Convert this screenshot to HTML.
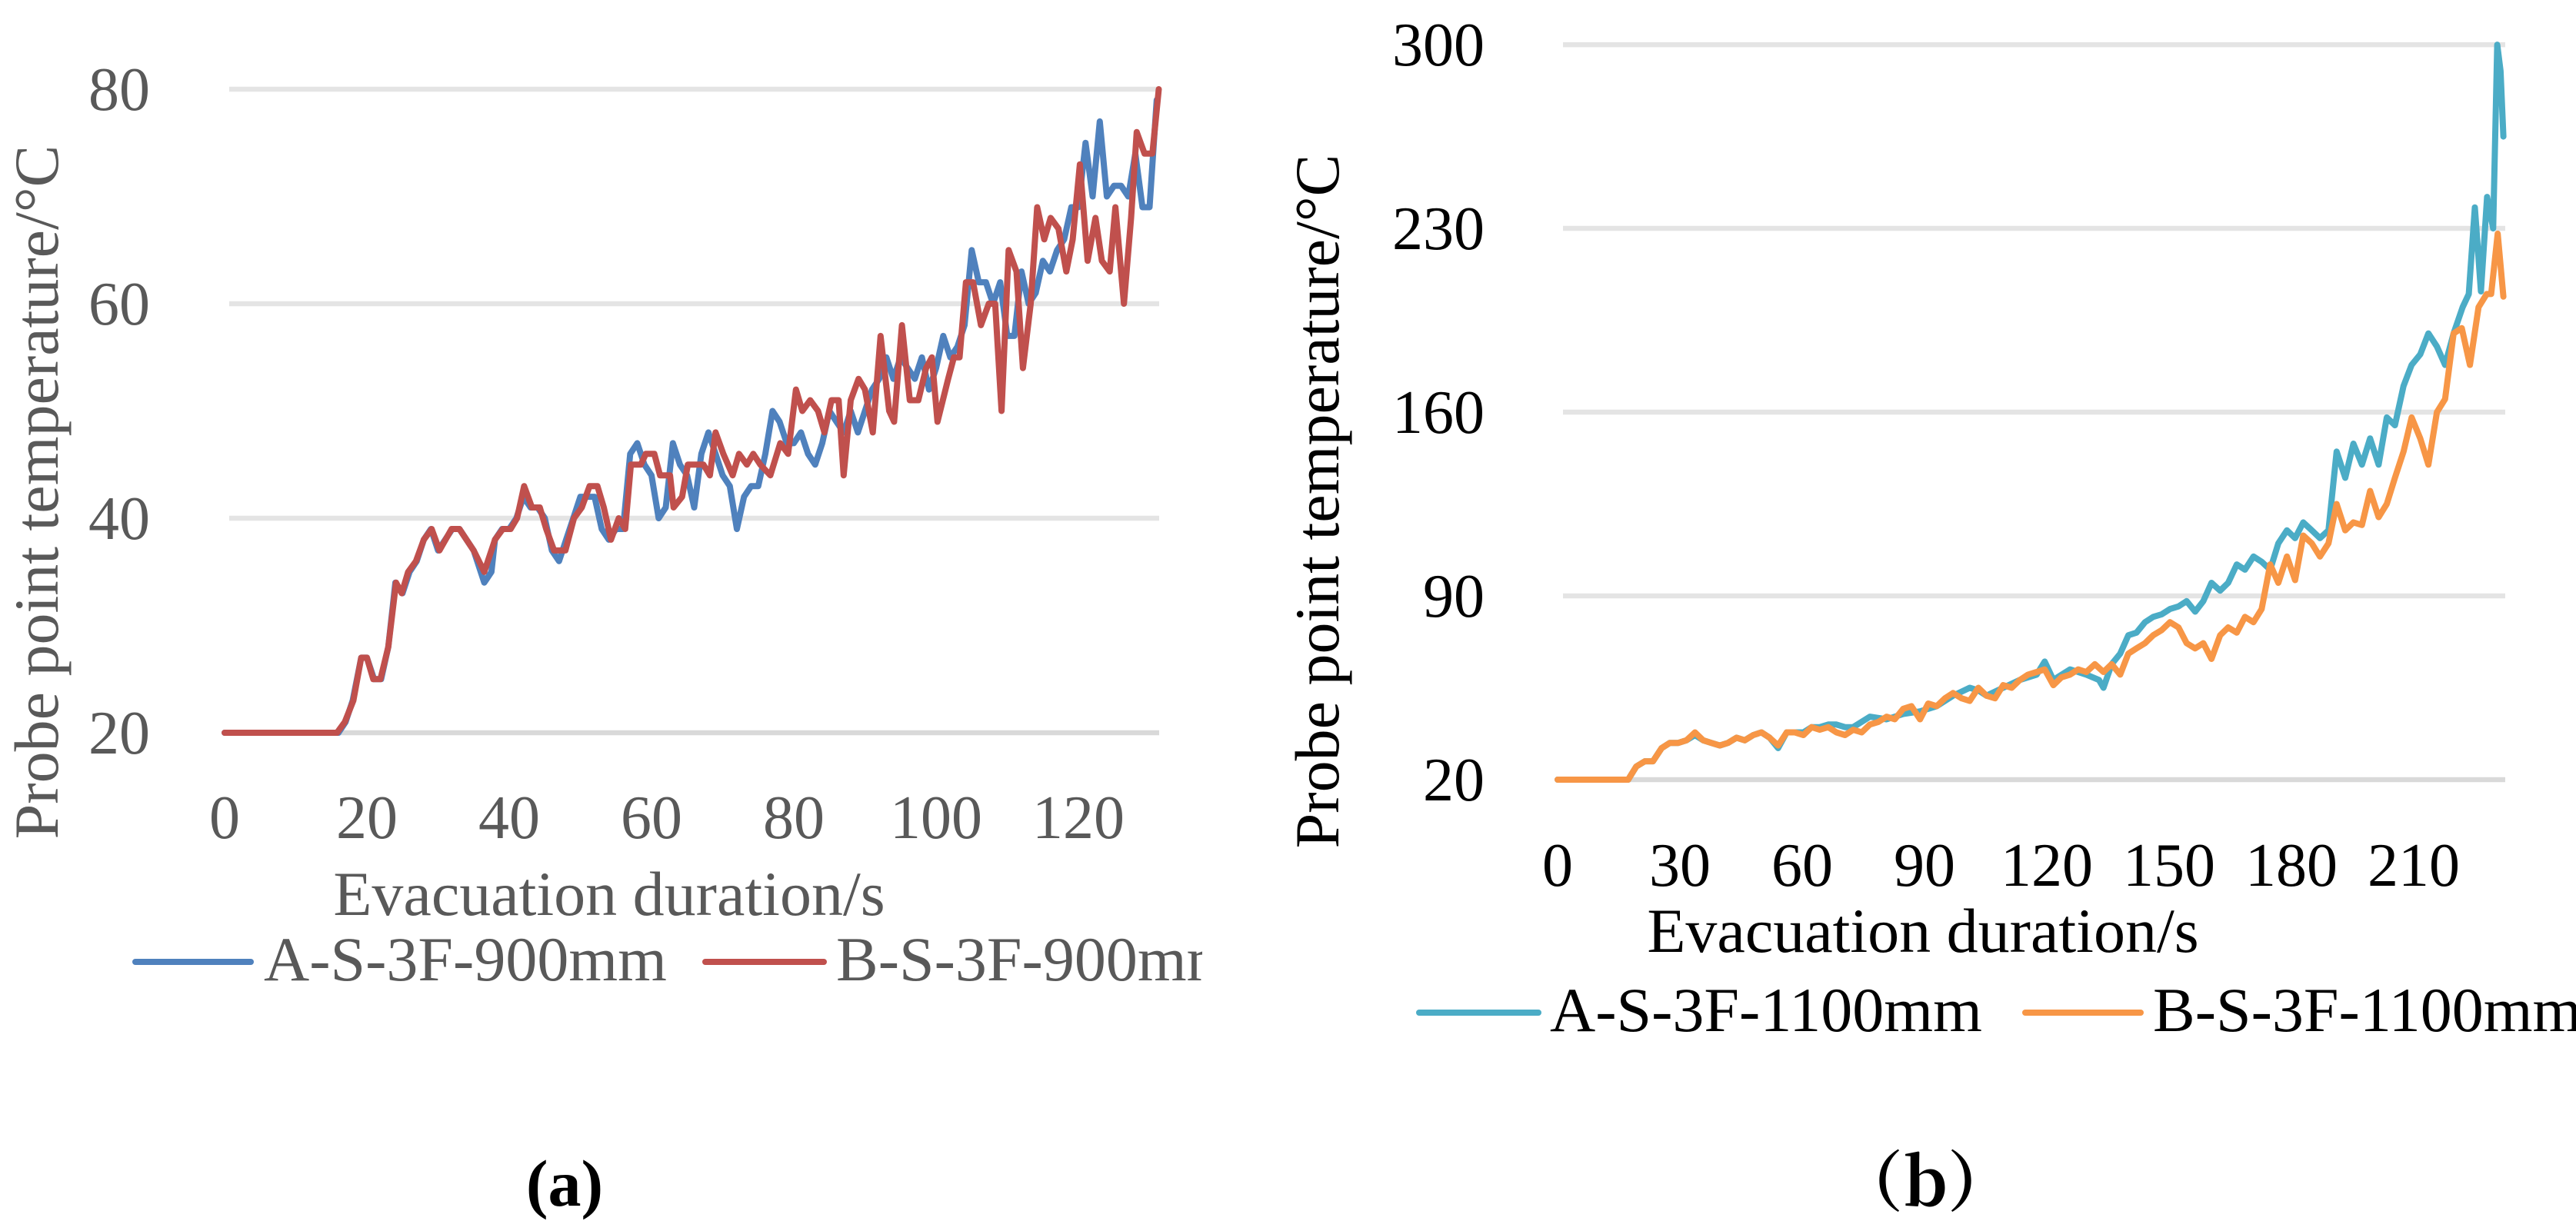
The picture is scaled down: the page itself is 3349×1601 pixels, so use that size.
<!DOCTYPE html>
<html><head><meta charset="utf-8"><style>
html,body{margin:0;padding:0;background:#fff;}
svg{display:block;font-family:"Liberation Serif",serif;}
</style></head><body>
<svg id="chart" width="3349" height="1601" viewBox="0 0 3349 1601" xmlns="http://www.w3.org/2000/svg">
<defs><clipPath id="clipA"><rect x="0" y="0" width="1563" height="1601"/></clipPath></defs>
<g id="panelA" clip-path="url(#clipA)"></g>
<g id="panelB"></g>
<text x="734" y="1568" font-size="86" font-weight="bold" text-anchor="middle" fill="#000">(a)</text>
<text x="2503" y="1568" font-size="86" font-weight="bold" text-anchor="middle" fill="#000" font-family="'Noto Serif CJK SC','Liberation Serif',serif">（b）</text>
</svg>
<script>
// Panel (a) data
const aTicksY = [20, 40, 60, 80];
const aTicksX = [0, 20, 40, 60, 80, 100, 120];
const aBlueT = [0,16,17,18,19.2,20,21,22,23,24,25,26,27,28,29,30,32,33,35,36.5,37.5,38,39,40,41,42,43,44,45,46,47,48,49,50,51,52,53,54,55,56,57,58,59,60,61,62,63,64,65,66,67,68,69,70,71,72,73,74,75,76,77,78,79,80,81,82,83,84,85,86,87,88,89,90,91,92,93,94,95,96,97,98,99,100,101,102,103,104,105,106,107,108,109,110,111,112,113,114,115,116,117,118,119,120,121,122,123,124,125,126,127,128,129,130,131];
const aBlueV = [20,20,21,23,27,27,25,25,28,34,33,35,36,38,39,37,39,39,37,34,35,38,39,39,40,42,41,41,40,37,36,38,40,42,42,42,39,38,39,39,46,47,45,44,40,41,47,45,44,41,46,48,46,44,43,39,42,43,43,46,50,49,47,47,48,46,45,47,50,49,48,50,48,50,52,53,55,53,55,54,53,55,52,54,57,55,56,58,65,62,62,60,62,57,57,63,60,61,64,63,65,66,69,69,75,70,77,70,71,71,70,74,69,69,79];
const aRedT = [0,15.8,16.9,18.1,19.2,20,20.9,21.9,23,24.1,24.9,25.8,26.9,28,29.1,30.2,31.9,33,35,36.5,38,39.1,40.2,41.1,42.1,43.2,44.3,45.2,46.3,47.9,49.1,50.2,51.3,52.4,53.3,54.3,55.4,56.3,57.1,58.5,59.2,60.4,61.2,62.6,63.1,64.3,65.1,67.3,68.2,69,70.1,71.4,72.3,73.4,74.3,75.3,76.7,78.1,79.2,80.3,81.2,82.3,83.4,84.3,85.3,86.3,87,88,89.1,90,91.1,92.2,93.4,94.1,95.2,96.3,97.5,98.6,99.4,100.2,101.7,102.5,103.3,104.2,105.2,106.3,107.4,108.3,109.2,110.2,111.3,112.2,113.3,114.2,115.2,116.1,117.2,118.3,119.2,120.2,121.3,122.4,123.3,124.4,125.2,126.4,127.4,128.2,129.3,130.4,131.3];
const aRedV = [20,20,21,23,27,27,25,25,28,34,33,35,36,38,39,37,39,39,37,35,38,39,39,40,43,41,41,39,37,37,40,41,43,43,41,38,40,39,45,45,46,46,44,44,41,42,45,45,44,48,46,44,46,45,46,45,44,47,46,52,50,51,50,48,51,51,44,51,53,52,48,57,50,49,58,51,51,54,55,49,53,55,55,62,62,58,60,60,50,65,63,54,60,69,66,68,67,63,66,73,64,68,64,63,69,60,68,76,74,74,80];
// Panel (b) data
const bTicksY = [20, 90, 160, 230, 300];
const bTicksX = [0, 30, 60, 90, 120, 150, 180, 210];
const bOrT = [0,17.3,19.3,21.4,23.4,25.5,27.5,29.6,31.6,33.7,35.7,37.7,39.8,41.8,43.9,45.9,48,50,52,54.1,56.2,58.2,60.3,62.3,64.3,66.4,68.4,70.5,72.5,74.6,76.6,78.7,80.7,82.7,84.8,86.8,88.9,90.9,93,95,97,99.1,101.1,103.2,105.2,107.3,109.3,111.4,113.4,115.4,117.5,119.5,121.6,123.6,125.7,127.7,129.7,131.8,133.9,135.9,138,140,142,144.1,146.1,148.2,150.2,152.3,154.3,156.4,158.4,160.4,162.5,164.5,166.6,168.6,170.7,172.7,174.8,176.8,178.9,180.9,182.9,185,187,189.1,191.1,193.2,195.2,197.3,199.3,201.4,203.4,205.4,207.5,209.5,211.6,213.6,215.7,217.7,219.8,221.8,223.8,225.9,227.9,229,230.6,232];
const bOrV = [20,20,25,27,27,32,34,34,35,38,35,34,33,34,36,35,37,38,36,33,38,38,37,40,39,40,38,37,39,38,41,42,44,43,47,48,43,49,48,51,53,51,50,55,52,51,56,55,58,60,61,62,56,59,60,62,61,64,61,64,60,68,70,72,75,77,80,78,72,70,72,66,75,78,76,82,80,85,102,95,105,96,113,110,105,110,125,115,118,117,130,120,125,135,145,158,150,140,160,165,190,192,178,200,205,205,228,204];
const bTlT = [0,17.3,19.3,21.4,23.4,25.5,27.5,29.6,31.6,33.7,35.7,37.7,39.8,41.8,43.9,45.9,48,50,52,54.1,56.2,58.2,60.3,62.3,64.3,66.4,68.4,70.5,72.5,76.6,80.7,84.8,88.9,93,97,101.1,103.2,105.2,109.3,113.4,117.5,119.5,121.6,125.7,129.7,132.8,133.9,135.9,138,140,142,144.1,146.1,148.2,150.2,152.3,154.3,156.4,158.4,160.4,162.5,164.5,166.6,168.6,170.7,172.7,174.8,176.8,178.9,180.9,182.9,185,187,189.1,191.1,193.2,195.2,197.3,199.3,201.4,203.4,205.4,207.5,209.5,211.6,213.6,215.7,217.7,219.8,222,223.5,225,226.5,228,229.5,230.5,231.3,232];
const bTlV = [20,20,25,27,27,32,34,34,35,37,35,34,33,34,36,35,37,38,36,32,38,38,38,40,40,41,41,40,40,44,43,45,46,48,52,55,54,52,55,58,60,65,58,62,60,58,55,64,68,75,76,80,82,83,85,86,88,84,88,95,92,95,102,100,105,103,100,110,115,112,118,115,112,115,145,135,148,140,150,140,158,155,170,178,182,190,185,178,190,200,205,238,206,242,230,300,290,265];

const NS = 'http://www.w3.org/2000/svg';
function mk(parent, tag, attrs, txt){const e=document.createElementNS(NS,tag);for(const k in attrs)e.setAttribute(k,attrs[k]);if(txt!==undefined)e.textContent=txt;parent.appendChild(e);return e;}

// axis functions
const xA = t => 292 + 9.25 * t;
const yA = v => 953 - (v - 20) * 13.95;
const xB = t => 2025 + 5.3 * t;
const yB = v => 1014 - (v - 20) * 3.414;

function drawPanel(g, cfg){
  cfg.ticksY.forEach(v=>{
    const ln = mk(g,'line',{x1:cfg.plotL,x2:cfg.plotR,y1:cfg.y(v),y2:cfg.y(v),stroke:v===cfg.ticksY[0]?'#d9d9d9':'#e4e4e4','stroke-width':6.5});
    
    
    const t = mk(g,'text',{x:cfg.labR,y:cfg.y(v)+27,'font-size':80,'text-anchor':'end',fill:cfg.color},String(v));
    
    
  });
  cfg.ticksX.forEach(v=>{
    const t = mk(g,'text',{x:cfg.x(v),y:cfg.tickY,'font-size':80,'text-anchor':'middle',fill:cfg.color},String(v));
    
    
  });
  cfg.series.forEach(s=>{
    const d = s.t.map((t,i)=>(i?'L':'M')+cfg.x(t).toFixed(1)+','+cfg.y(s.v[i]).toFixed(1)).join(' ');
    const p = mk(g,'path',{d:d,fill:'none',stroke:s.color,'stroke-width':8,'stroke-linejoin':'round','stroke-linecap':'round'});
    
    
  });
  const yt = mk(g,'text',{x:0,y:0,'font-size':82,'text-anchor':'middle',fill:cfg.color,transform:'translate('+cfg.ytX+','+cfg.ytY+') rotate(-90)'},'Probe point temperature/°C');
  
  
  const xt = mk(g,'text',{x:cfg.xtX,y:cfg.xtY,'font-size':82,'text-anchor':'middle',fill:cfg.color},'Evacuation duration/s');
  
  
  cfg.legend.forEach(l=>{
    const ll = mk(g,'line',{x1:l.x1,x2:l.x2,y1:cfg.legY,y2:cfg.legY,stroke:l.color,'stroke-width':8,'stroke-linecap':'round'});
    
    
    const lt = mk(g,'text',{x:l.tx,y:cfg.legY+24,'font-size':82,fill:cfg.color},l.label);
    
    
  });
}

drawPanel(document.getElementById('panelA'),{
  x:xA,y:yA,ticksY:aTicksY,ticksX:aTicksX,plotL:298,plotR:1507,labR:195,tickY:1090,color:'#595959',
  series:[{name:'a-s-3f-900mm',t:aBlueT,v:aBlueV,color:'#4F81BD'},{name:'b-s-3f-900mm',t:aRedT,v:aRedV,color:'#C0504D'}],
  ytX:75,ytY:640,xtX:792,xtY:1190,legY:1251,
  legend:[{name:'a-s-3f-900mm',x1:176,x2:326,tx:343,color:'#4F81BD',label:'A-S-3F-900mm'},
          {name:'b-s-3f-900mm',x1:917,x2:1071,tx:1087,color:'#C0504D',label:'B-S-3F-900mm'}]
});
drawPanel(document.getElementById('panelB'),{
  x:xB,y:yB,ticksY:bTicksY,ticksX:bTicksX,plotL:2032,plotR:3257,labR:1930,tickY:1152,color:'#000',
  series:[{name:'a-s-3f-1100mm',t:bTlT,v:bTlV,color:'#4BACC6'},{name:'b-s-3f-1100mm',t:bOrT,v:bOrV,color:'#F79646'}],
  ytX:1740,ytY:652,xtX:2500,xtY:1238,legY:1317,
  legend:[{name:'a-s-3f-1100mm',x1:1845,x2:2000,tx:2015,color:'#4BACC6',label:'A-S-3F-1100mm'},
          {name:'b-s-3f-1100mm',x1:2633,x2:2783,tx:2799,color:'#F79646',label:'B-S-3F-1100mm'}]
});
</script>
</body></html>
